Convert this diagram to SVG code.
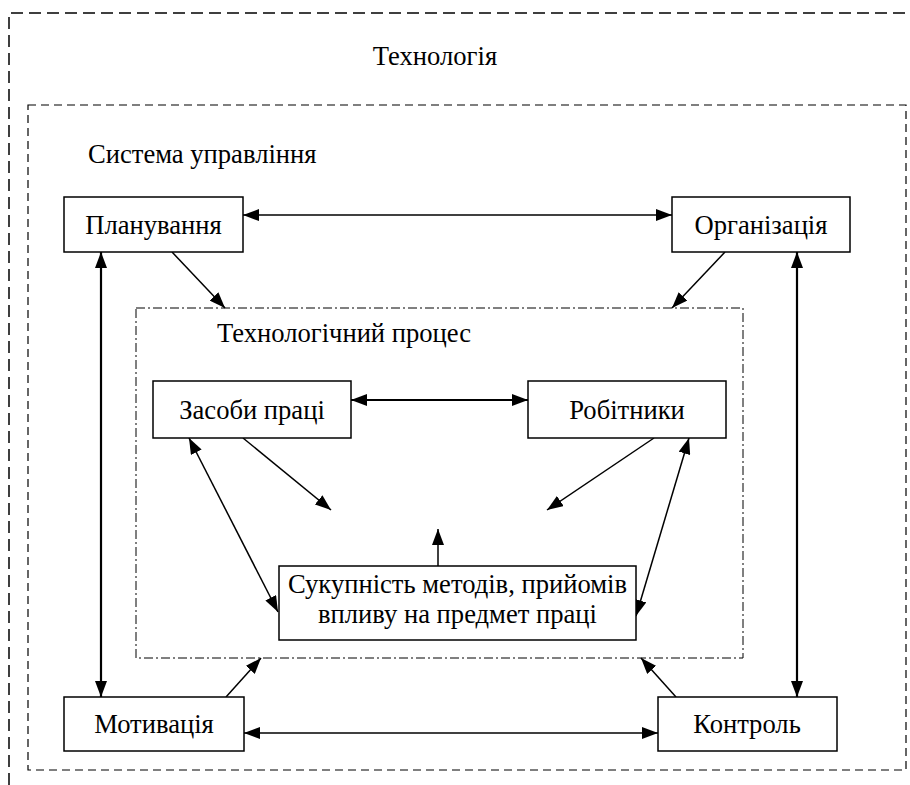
<svg xmlns="http://www.w3.org/2000/svg" width="910" height="785" viewBox="0 0 910 785">
<style>
text{font-family:"Liberation Serif","Times New Roman",serif;font-size:26.6px;fill:#000}
.box{fill:#fff;stroke:#000;stroke-width:1.5}
.c{fill:none;stroke:#000;stroke-width:1.5}
.t{stroke-width:2.2}
</style>
<defs>
<marker id="a" viewBox="0 0 16 12" refX="16" refY="6" markerWidth="16" markerHeight="12" markerUnits="userSpaceOnUse" orient="auto-start-reverse"><path d="M0,0 L16,6 L0,12 z" fill="#000"/></marker>
</defs>
<rect width="910" height="785" fill="#fff"/>
<g id="technology">
<path d="M9,785 V13 H910" fill="none" stroke="#000" stroke-width="1.5" stroke-dasharray="12,6"/>
<text x="435" y="65" text-anchor="middle">Технологія</text>
</g>
<g id="management">
<rect x="28" y="105" width="878" height="665" fill="none" stroke="#000" stroke-width="1.2" stroke-dasharray="8,5"/>
<text x="88" y="163">Система управління</text>
</g>
<g id="process">
<rect x="136" y="308" width="607" height="350" fill="none" stroke="#000" stroke-width="1" stroke-dasharray="9,3,2,3"/>
<text x="217" y="342">Технологічний процес</text>
</g>
<g id="connectors">
<line class="c" x1="243" y1="215" x2="672" y2="215" marker-start="url(#a)" marker-end="url(#a)"/>
<line class="c t" x1="101" y1="252" x2="101" y2="697" marker-start="url(#a)" marker-end="url(#a)"/>
<line class="c t" x1="797" y1="252" x2="797" y2="697" marker-start="url(#a)" marker-end="url(#a)"/>
<line class="c" x1="244" y1="733" x2="658" y2="733" marker-start="url(#a)" marker-end="url(#a)"/>
<line class="c" x1="172" y1="252" x2="225" y2="308" marker-end="url(#a)"/>
<line class="c" x1="725" y1="252" x2="672" y2="308" marker-end="url(#a)"/>
<line class="c" x1="226" y1="697" x2="261" y2="658" marker-end="url(#a)"/>
<line class="c" x1="676" y1="697" x2="641" y2="658" marker-end="url(#a)"/>
<line class="c t" x1="351" y1="400" x2="528" y2="400" marker-start="url(#a)" marker-end="url(#a)"/>
<line class="c" x1="243" y1="438" x2="331" y2="510" marker-end="url(#a)"/>
<line class="c" x1="654" y1="438" x2="547" y2="510" marker-end="url(#a)"/>
<line class="c" x1="189" y1="438" x2="278" y2="612" marker-start="url(#a)" marker-end="url(#a)"/>
<line class="c" x1="689" y1="438" x2="636" y2="616" marker-start="url(#a)" marker-end="url(#a)"/>
<line class="c" x1="438" y1="566" x2="438" y2="529" marker-end="url(#a)"/>
</g>
<g id="planning"><rect class="box" x="64" y="197" width="179" height="55"/><text x="153.5" y="234" text-anchor="middle">Планування</text></g>
<g id="organization"><rect class="box" x="672" y="197" width="178" height="55"/><text x="761" y="234" text-anchor="middle">Організація</text></g>
<g id="means"><rect class="box" x="153" y="381" width="198" height="57"/><text x="252" y="419" text-anchor="middle">Засоби праці</text></g>
<g id="workers"><rect class="box" x="528" y="381" width="198" height="57"/><text x="627" y="419" text-anchor="middle">Робітники</text></g>
<g id="methods"><rect class="box" x="279" y="566" width="357" height="74"/><text x="457.5" y="593" text-anchor="middle">Сукупність методів, прийомів</text><text x="457.5" y="623" text-anchor="middle">впливу на предмет праці</text></g>
<g id="motivation"><rect class="box" x="64" y="697" width="180" height="54"/><text x="154" y="733" text-anchor="middle">Мотивація</text></g>
<g id="control"><rect class="box" x="658" y="697" width="179" height="54"/><text x="747" y="733" text-anchor="middle">Контроль</text></g>
</svg>
